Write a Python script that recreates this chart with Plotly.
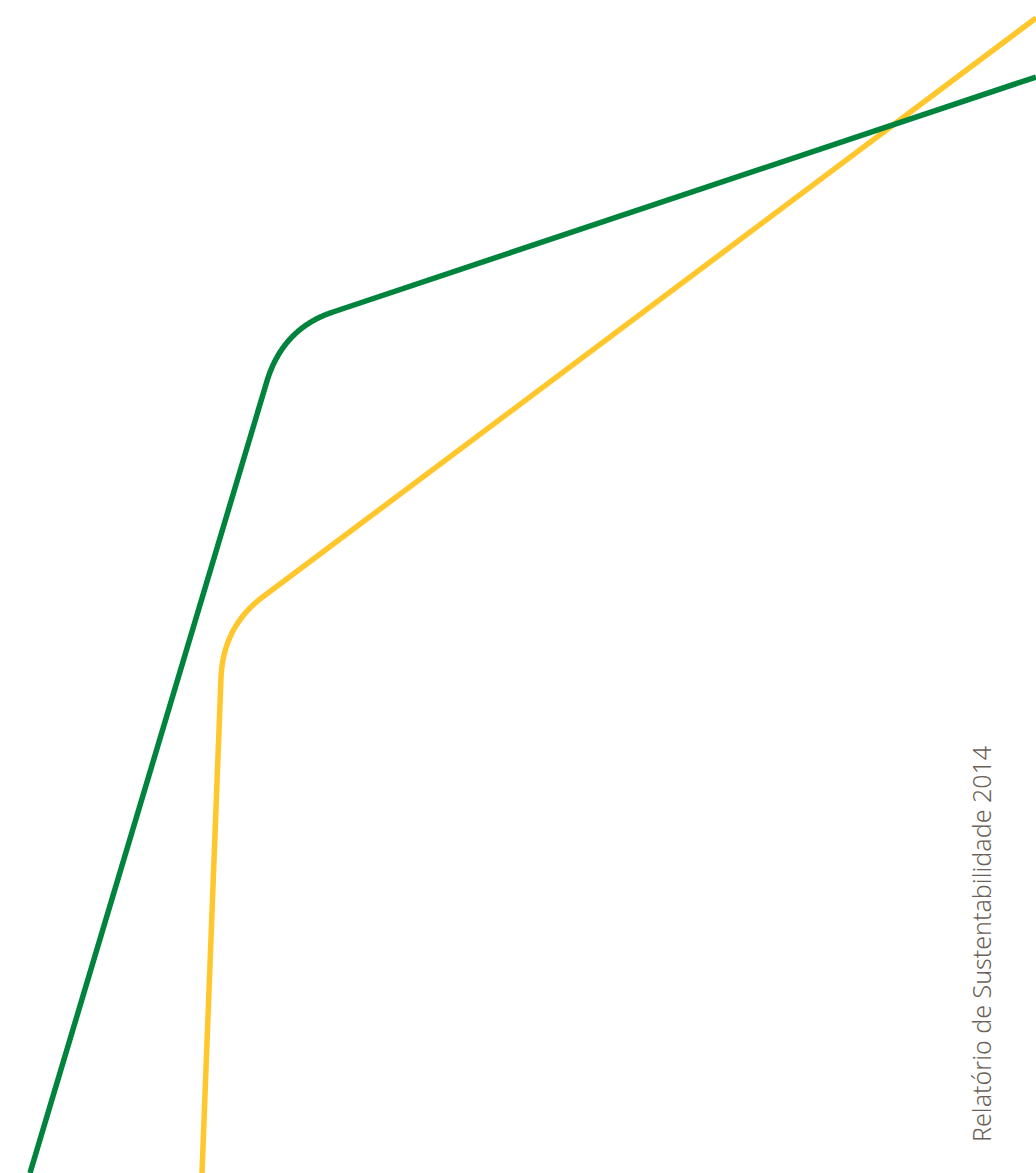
import numpy as np
import plotly.graph_objects as go

W, H = 1036, 1173

# Path vertices (pixel space): start, corner-in, corner-control, corner-out, end
green_x = [30, 267, 283, 333, 1036]
green_y = [1173, 381, 328.5, 312, 77]
yellow_x = [202, 221, 223, 264, 1036]
yellow_y = [1173, 678, 626, 596, 18]

label_text = "Relatório de Sustentabilidade 2014"


def rounded(xs, ys, n=120):
    t = np.linspace(0, 1, n)
    p0 = np.array([xs[1], ys[1]])
    p1 = np.array([xs[2], ys[2]])
    p2 = np.array([xs[3], ys[3]])
    curve = ((1 - t)[:, None] ** 2) * p0 + (2 * (1 - t) * t)[:, None] * p1 + (t[:, None] ** 2) * p2
    px = [xs[0]] + list(curve[:, 0]) + [xs[4]]
    py = [ys[0]] + list(curve[:, 1]) + [ys[4]]
    return px, py


fig = go.Figure()
yx, yy = rounded(yellow_x, yellow_y)
gx, gy = rounded(green_x, green_y)
fig.add_trace(go.Scatter(x=yx, y=yy, mode="lines",
                         line=dict(color="#FFC72C", width=5.5, simplify=False), hoverinfo="skip"))
fig.add_trace(go.Scatter(x=gx, y=gy, mode="lines",
                         line=dict(color="#00843D", width=5.5, simplify=False), hoverinfo="skip"))

fig.add_annotation(x=981, y=944, xref="x", yref="y", text=label_text, textangle=-90,
                   showarrow=False, font=dict(family="Noto Sans", size=25, color="#6b5f57", weight=300))

fig.update_layout(
    width=W, height=H, margin=dict(l=0, r=0, t=0, b=0),
    paper_bgcolor="white", plot_bgcolor="white", showlegend=False,
    xaxis=dict(range=[0, W], visible=False, fixedrange=True),
    yaxis=dict(range=[H, 0], visible=False, fixedrange=True),
)
fig.write_html("out.html", config={"displayModeBar": False},
               post_script="document.body.style.margin='0';document.body.style.overflow='hidden';")
